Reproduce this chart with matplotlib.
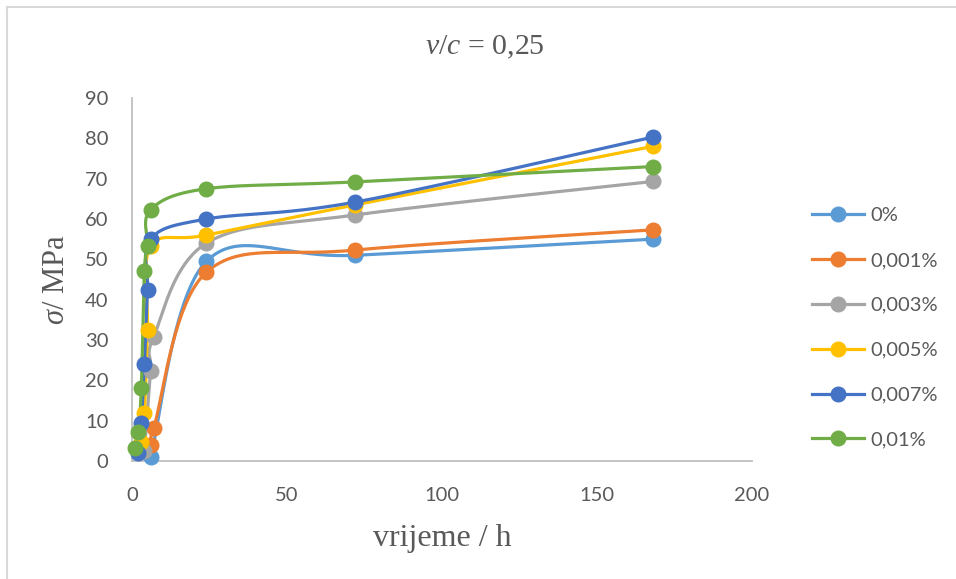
import numpy as np
import matplotlib
matplotlib.use("Agg")
import matplotlib.pyplot as plt
from matplotlib.lines import Line2D

# vrijeme (h) i čvrstoća (MPa) za svaki udio
labels = ['0%', '0,001%', '0,003%', '0,005%', '0,007%', '0,01%']
colors = ['#5B9BD5', '#ED7D31', '#A5A5A5', '#FFC000', '#4472C4', '#70AD47']

t_0 = [6, 24, 72, 168]
s_0 = [1, 49.5, 51, 55]
t_001 = [6, 7, 24, 72, 168]
s_001 = [4, 8.2, 46.8, 52.3, 57.3]
t_003 = [4, 6, 7, 24, 72, 168]
s_003 = [2.5, 22.2, 30.8, 54, 61, 69.3]
t_005 = [3, 4, 5, 6, 24, 72, 168]
s_005 = [4.6, 12, 32.5, 53.2, 56, 63.5, 78]
t_007 = [2, 3, 4, 5, 6, 24, 72, 168]
s_007 = [2, 9.5, 24, 42.3, 55, 60, 64.2, 80.3]
t_01 = [1, 2, 3, 4, 5, 6, 24, 72, 168]
s_01 = [3.2, 7.3, 18, 47, 53.2, 62.3, 67.5, 69.2, 73]

serije = [(t_0, s_0), (t_001, s_001), (t_003, s_003),
          (t_005, s_005), (t_007, s_007), (t_01, s_01)]

plt.rcParams['font.family'] = ['Lato', 'DejaVu Sans']
plt.rcParams['mathtext.fontset'] = 'custom'
plt.rcParams['mathtext.rm'] = 'Liberation Serif'
plt.rcParams['mathtext.it'] = 'Liberation Serif:italic'

SX, SY = 3.1, 4.03  # px po jedinici, za zaglađivanje kao u Excelu


def smooth(x, y, n=40):
    # bezier kroz točke (catmull-rom) u pikselima
    p = np.column_stack([np.array(x) * SX, np.array(y) * SY])
    out = [p[0]]
    for i in range(len(p) - 1):
        p0 = p[i - 1] if i > 0 else p[i]
        p3 = p[i + 2] if i + 2 < len(p) else p[i + 1]
        c1 = p[i] + (p[i + 1] - p0) / 6
        c2 = p[i + 1] - (p3 - p[i]) / 6
        u = np.linspace(0, 1, n)[1:, None]
        seg = ((1 - u) ** 3 * p[i] + 3 * (1 - u) ** 2 * u * c1
               + 3 * (1 - u) * u ** 2 * c2 + u ** 3 * p[i + 1])
        out.extend(seg)
    out = np.array(out)
    return out[:, 0] / SX, out[:, 1] / SY


fig = plt.figure(figsize=(9.56, 5.79), dpi=100)
ax = fig.add_axes([132 / 956, 1 - 461 / 579, 620 / 956, 363 / 579])

for (t, s), c, lab in zip(serije, colors, labels):
    xs, ys = smooth(t, s)
    ax.plot(xs, ys, color=c, linewidth=2.3, solid_capstyle='round', zorder=2, clip_on=False)
    ax.plot(t, s, 'o', color=c, markersize=10.5, zorder=3, clip_on=False)

ax.set_xlim(0, 200)
ax.set_ylim(0, 90)
ax.set_xticks([0, 50, 100, 150, 200])
ax.set_yticks(range(0, 91, 10))
ax.tick_params(length=0, labelsize=14.5, labelcolor='#595959')
ax.tick_params(axis='x', pad=19)
ax.tick_params(axis='y', pad=17)
for sp in ['top', 'right']:
    ax.spines[sp].set_visible(False)
for sp in ['left', 'bottom']:
    ax.spines[sp].set_color('#BFBFBF')
    ax.spines[sp].set_linewidth(1.3)
    ax.spines[sp].set_zorder(1)

ax.set_xlabel('vrijeme / h', fontsize=23, family='Liberation Serif', color='#595959', labelpad=14)
ax.set_ylabel(r'$\sigma$/ MPa', fontsize=22, family='Liberation Serif', color='#595959', labelpad=10)
fig.text(485 / 956, 1 - 47 / 579, r'$v/c$ = 0,25', fontsize=21.5, family='Liberation Serif',
         color='#595959', ha='center', va='center')

handles = [Line2D([], [], color=c, linewidth=2.3, marker='o', markersize=10.5) for c in colors]
fig.legend(handles, labels, loc='upper left', bbox_to_anchor=(812 / 956, 1 - 207 / 579),
           frameon=False, fontsize=14.5, labelcolor='#595959', handlelength=2.6,
           handletextpad=0.3, labelspacing=1.38, borderpad=0, borderaxespad=0)

# okvir grafikona
fig.add_artist(Line2D([7 / 956, 7 / 956], [0, 1 - 7 / 579], color='#D9D9D9', linewidth=1.5))
fig.add_artist(Line2D([7 / 956, 1], [1 - 7 / 579, 1 - 7 / 579], color='#D9D9D9', linewidth=1.5))

plt.savefig('out.png', dpi=100)
